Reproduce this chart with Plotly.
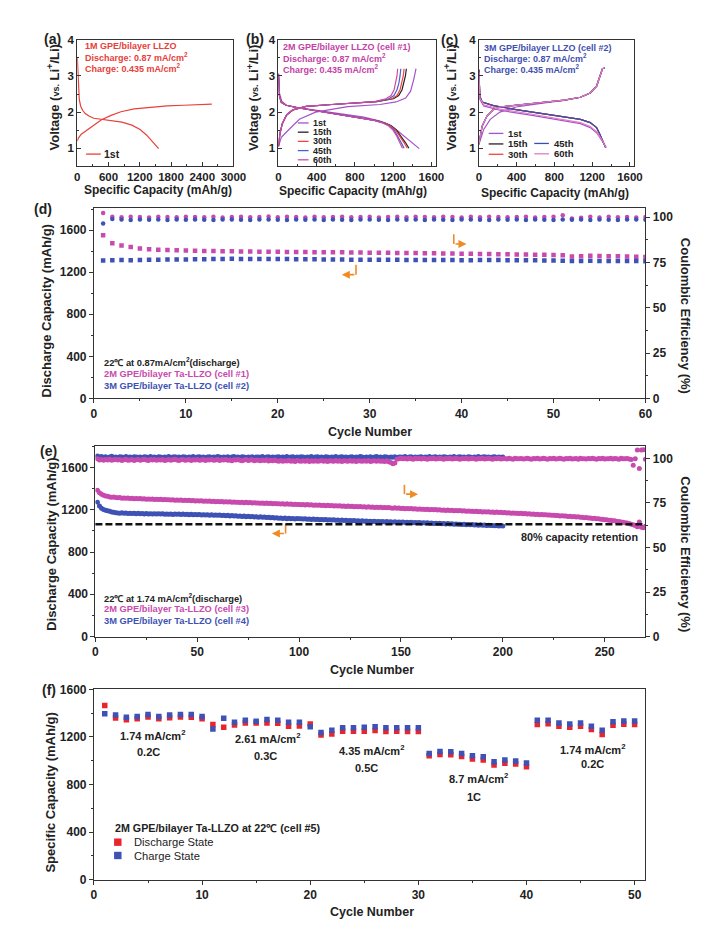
import plotly.graph_objects as go

W, H = 722, 944
FONT = "Liberation Sans"

MAG = "#c84aae"
BLU = "#3d52b4"
RED = "#e8252d"
ORG = "#f08a24"

# ---------------- (a) 1M GPE ----------------
a_dis_cap = [0, 8, 16, 25, 38, 63, 101, 152, 222, 317, 476, 667, 857, 1048, 1206, 1333, 1460, 1562]
a_dis_v = [3.50, 3.17, 2.85, 2.58, 2.35, 2.17, 2.05, 1.96, 1.89, 1.83, 1.80, 1.76, 1.72, 1.64, 1.52, 1.36, 1.16, 0.99]
a_chg_cap = [0, 20, 76, 203, 330, 457, 648, 838, 1092, 1410, 1727, 2045, 2362, 2584]
a_chg_v = [1.20, 1.28, 1.39, 1.52, 1.66, 1.78, 1.91, 2.01, 2.09, 2.14, 2.17, 2.19, 2.21, 2.22]

# ---------------- (b) 2M GPE cell #1 ----------------
b_cycles = ["1st", "15th", "30th", "45th", "60th"]
b_colors = ["#a452cc", "#222222", "#f2433c", "#4a5fd0", "#d04aa4"]
b_dis_cap = {
    "1st":  [0, 10, 34, 84, 219, 556, 893, 1062, 1163, 1230, 1331, 1415, 1473],
    "15th": [0, 10, 30, 80, 200, 380, 550, 720, 880, 1010, 1110, 1180, 1235, 1285, 1330, 1365],
    "30th": [0, 10, 30, 80, 200, 380, 550, 720, 880, 1010, 1105, 1172, 1225, 1272, 1315, 1348],
    "45th": [0, 10, 30, 80, 200, 380, 550, 720, 880, 1005, 1095, 1160, 1210, 1250, 1285, 1314],
    "60th": [0, 10, 30, 80, 200, 380, 550, 720, 875, 1000, 1090, 1150, 1198, 1238, 1270, 1297],
}
b_dis_v = {
    "1st":  [3.08, 2.53, 2.30, 2.19, 2.12, 2.00, 1.86, 1.75, 1.64, 1.52, 1.31, 1.11, 0.99],
    "15th": [3.05, 2.45, 2.27, 2.19, 2.12, 2.04, 1.97, 1.90, 1.83, 1.77, 1.70, 1.62, 1.50, 1.33, 1.15, 1.00],
    "30th": [3.05, 2.45, 2.27, 2.19, 2.12, 2.04, 1.97, 1.90, 1.83, 1.77, 1.70, 1.62, 1.50, 1.33, 1.15, 1.00],
    "45th": [3.05, 2.45, 2.27, 2.19, 2.12, 2.04, 1.97, 1.90, 1.83, 1.77, 1.70, 1.62, 1.50, 1.33, 1.15, 1.00],
    "60th": [3.05, 2.45, 2.27, 2.19, 2.12, 2.04, 1.97, 1.90, 1.83, 1.77, 1.70, 1.62, 1.50, 1.33, 1.15, 1.00],
}
b_chg_cap = {
    "1st":  [0, 30, 84, 219, 388, 725, 1062, 1230, 1331, 1382, 1415, 1439],
    "15th": [0, 15, 40, 85, 150, 290, 560, 830, 1030, 1203, 1258, 1293, 1313, 1328, 1338],
    "30th": [0, 15, 40, 85, 150, 290, 560, 830, 1025, 1185, 1240, 1272, 1292, 1306, 1314],
    "45th": [0, 15, 40, 85, 150, 290, 560, 825, 1015, 1155, 1208, 1240, 1260, 1272, 1280],
    "60th": [0, 15, 40, 85, 150, 290, 555, 820, 1005, 1125, 1178, 1210, 1228, 1240, 1247],
}
b_chg_v = {
    "1st":  [1.05, 1.30, 1.45, 1.80, 2.00, 2.15, 2.21, 2.28, 2.39, 2.58, 2.90, 3.20],
    "15th": [1.05, 1.40, 1.68, 1.92, 2.06, 2.16, 2.21, 2.25, 2.29, 2.37, 2.46, 2.62, 2.80, 3.00, 3.20],
    "30th": [1.05, 1.40, 1.68, 1.92, 2.06, 2.16, 2.21, 2.25, 2.29, 2.37, 2.46, 2.62, 2.80, 3.00, 3.20],
    "45th": [1.05, 1.40, 1.68, 1.92, 2.06, 2.16, 2.21, 2.25, 2.29, 2.37, 2.46, 2.62, 2.80, 3.00, 3.20],
    "60th": [1.05, 1.40, 1.68, 1.92, 2.06, 2.16, 2.21, 2.25, 2.29, 2.37, 2.46, 2.62, 2.80, 3.00, 3.20],
}

# ---------------- (c) 3M GPE cell #2 ----------------
c_cycles = ["1st", "15th", "30th", "45th", "60th"]
c_colors = ["#a452cc", "#222222", "#f2433c", "#3a4fb0", "#e27cc8"]
c_dis_cap = {
    "1st":  [0, 10, 51, 222, 564, 905, 1076, 1179, 1247, 1316, 1350],
    "15th": [0, 10, 34, 154, 393, 564, 735, 905, 1076, 1179, 1247, 1281, 1316, 1333, 1343],
    "30th": [0, 10, 34, 154, 393, 564, 735, 905, 1076, 1179, 1247, 1281, 1316, 1333, 1343],
    "45th": [0, 10, 34, 154, 393, 564, 735, 905, 1076, 1179, 1247, 1281, 1316, 1333, 1340],
    "60th": [0, 10, 51, 222, 564, 905, 1076, 1179, 1247, 1316, 1345],
}
c_dis_v = {
    "1st":  [3.17, 2.35, 2.17, 2.05, 1.91, 1.77, 1.68, 1.57, 1.43, 1.16, 1.02],
    "15th": [3.17, 2.44, 2.28, 2.18, 2.07, 2.00, 1.94, 1.87, 1.80, 1.71, 1.57, 1.39, 1.16, 1.05, 1.02],
    "30th": [3.17, 2.44, 2.28, 2.18, 2.07, 2.00, 1.94, 1.87, 1.80, 1.71, 1.57, 1.39, 1.16, 1.05, 1.02],
    "45th": [3.17, 2.44, 2.28, 2.18, 2.07, 2.00, 1.94, 1.87, 1.80, 1.71, 1.57, 1.39, 1.16, 1.05, 1.02],
    "60th": [3.10, 2.38, 2.20, 2.08, 1.94, 1.80, 1.71, 1.60, 1.46, 1.18, 1.02],
}
c_chg_cap = {
    "1st":  [0, 51, 120, 222, 393, 564, 735, 905, 1076, 1179, 1247, 1281, 1309, 1335],
    "15th": [0, 34, 85, 154, 222, 393, 564, 735, 905, 1076, 1179, 1247, 1281, 1309, 1330],
    "30th": [0, 34, 85, 154, 222, 393, 564, 735, 905, 1076, 1179, 1247, 1281, 1309, 1333],
    "45th": [0, 34, 85, 154, 222, 393, 564, 735, 905, 1076, 1179, 1247, 1281, 1309, 1336],
    "60th": [0, 34, 85, 154, 222, 393, 564, 735, 905, 1076, 1179, 1247, 1281, 1309, 1332],
}
c_chg_v = {
    "1st":  [1.11, 1.52, 1.80, 2.00, 2.14, 2.21, 2.27, 2.32, 2.41, 2.53, 2.72, 2.99, 3.20, 3.22],
    "15th": [1.11, 1.61, 1.89, 2.07, 2.14, 2.19, 2.23, 2.28, 2.33, 2.41, 2.53, 2.72, 2.99, 3.20, 3.22],
    "30th": [1.11, 1.61, 1.89, 2.07, 2.14, 2.19, 2.23, 2.28, 2.33, 2.41, 2.53, 2.72, 2.99, 3.20, 3.22],
    "45th": [1.11, 1.61, 1.89, 2.07, 2.14, 2.19, 2.23, 2.28, 2.33, 2.41, 2.53, 2.72, 2.99, 3.20, 3.22],
    "60th": [1.11, 1.61, 1.89, 2.07, 2.14, 2.19, 2.23, 2.28, 2.33, 2.41, 2.53, 2.72, 2.99, 3.20, 3.22],
}

# ---------------- (d) 0.87 mA/cm2, 60 cycles ----------------
d_cap1 = [1550, 1475, 1453, 1440, 1425, 1418, 1413, 1410, 1408, 1406,
          1404, 1402, 1401, 1399, 1398, 1397, 1396, 1395, 1394, 1393,
          1392, 1392, 1391, 1390, 1389, 1388, 1388, 1387, 1386, 1385,
          1385, 1384, 1383, 1382, 1381, 1380, 1379, 1378, 1377, 1376,
          1375, 1373, 1372, 1371, 1370, 1368, 1367, 1366, 1365, 1363,
          1360, 1348, 1352, 1355, 1353, 1351, 1350, 1348, 1347, 1345]
d_cap2 = [1310, 1312, 1315, 1312, 1316, 1318, 1319, 1320, 1320, 1321,
          1322, 1323, 1324, 1325, 1327, 1326, 1326, 1325, 1325, 1324,
          1324, 1323, 1322, 1322, 1321, 1320, 1320, 1319, 1319, 1318,
          1318, 1317, 1317, 1316, 1316, 1315, 1315, 1316, 1315, 1314,
          1314, 1315, 1316, 1315, 1314, 1313, 1312, 1312, 1311, 1310,
          1309, 1305, 1307, 1308, 1307, 1306, 1306, 1305, 1305, 1304]
d_ce1 = [102.2, 100.1, 99.9, 100.2, 100.0, 99.8, 100.1, 100.0, 99.9, 100.2,
         100.0, 99.9, 100.1, 99.8, 100.0, 100.2, 99.9, 100.0, 100.3, 99.9,
         100.1, 100.0, 99.8, 100.1, 99.9, 100.0, 100.2, 99.9, 100.0, 100.1,
         99.8, 100.0, 100.1, 99.9, 100.2, 100.0, 99.9, 100.1, 100.0, 99.8,
         100.1, 99.9, 100.2, 100.0, 99.9, 100.0, 100.1, 99.8, 100.0, 100.2,
         101.0, 99.2, 99.6, 100.1, 99.8, 100.2, 99.9, 100.0, 99.8, 100.0]
d_ce2 = [96.4, 98.9, 98.6, 98.4, 98.7, 98.5, 98.6, 98.4, 98.7, 98.5,
         98.6, 98.5, 98.4, 98.7, 98.6, 98.5, 98.4, 98.6, 98.7, 98.5,
         98.4, 98.6, 98.5, 98.7, 98.4, 98.6, 98.5, 98.4, 98.6, 98.7,
         98.5, 98.4, 98.6, 98.5, 98.7, 98.4, 98.6, 98.5, 98.4, 98.6,
         98.7, 98.5, 98.4, 98.6, 98.5, 98.7, 98.4, 98.6, 98.5, 98.4,
         98.6, 98.5, 98.7, 98.4, 98.6, 98.5, 98.4, 98.6, 98.7, 98.5]

# ---------------- (e) 1.74 mA/cm2, long cycling ----------------
e_cap3 = [1385, 1362, 1348, 1338, 1331, 1327, 1322, 1318, 1320, 1315,
          1313, 1316, 1310, 1312, 1308, 1311, 1306, 1309, 1305, 1307,
          1304, 1306, 1302, 1305, 1300, 1303, 1299, 1302, 1298, 1300,
          1297, 1299, 1295, 1298, 1294, 1296, 1292, 1295, 1291, 1293,
          1290, 1292, 1288, 1291, 1287, 1289, 1285, 1288, 1284, 1286,
          1283, 1285, 1281, 1284, 1280, 1282, 1278, 1281, 1277, 1279,
          1276, 1278, 1274, 1277, 1273, 1275, 1271, 1274, 1270, 1272,
          1269, 1271, 1267, 1270, 1266, 1268, 1264, 1267, 1263, 1265,
          1262, 1264, 1260, 1263, 1259, 1261, 1257, 1260, 1256, 1258,
          1255, 1257, 1253, 1256, 1252, 1254, 1250, 1253, 1249, 1251,
          1248, 1250, 1246, 1249, 1245, 1247, 1243, 1246, 1242, 1244,
          1241, 1243, 1239, 1242, 1238, 1240, 1236, 1239, 1235, 1237,
          1234, 1236, 1232, 1235, 1231, 1233, 1229, 1232, 1228, 1230,
          1227, 1229, 1225, 1228, 1224, 1226, 1222, 1225, 1221, 1223,
          1220, 1222, 1218, 1221, 1217, 1215, 1218, 1214, 1216, 1212,
          1214, 1210, 1213, 1209, 1211, 1207, 1210, 1206, 1208, 1204,
          1206, 1202, 1205, 1201, 1203, 1199, 1202, 1198, 1200, 1196,
          1198, 1194, 1197, 1193, 1195, 1191, 1194, 1190, 1192, 1188,
          1190, 1186, 1189, 1185, 1187, 1183, 1186, 1182, 1184, 1180,
          1182, 1178, 1181, 1177, 1179, 1175, 1178, 1174, 1176, 1172,
          1174, 1170, 1172, 1168, 1170, 1166, 1168, 1164, 1166, 1162,
          1164, 1160, 1162, 1158, 1160, 1156, 1158, 1154, 1156, 1152,
          1154, 1150, 1151, 1147, 1149, 1145, 1146, 1142, 1144, 1140,
          1141, 1137, 1139, 1134, 1136, 1131, 1133, 1128, 1130, 1125,
          1127, 1122, 1123, 1118, 1119, 1114, 1115, 1110, 1111, 1106,
          1106, 1101, 1101, 1096, 1095, 1090, 1089, 1084, 1082, 1077,
          1074, 1070, 1063, 1058, 1050, 1040, 1085, 1035, 1030, 1045]
e_ce3 = [99.8, 99.2, 99.5, 99.0, 99.4, 99.1, 99.6, 99.0, 99.3, 99.5,
         99.1, 99.4, 98.9, 99.3, 99.6, 99.0, 99.2, 99.5, 98.9, 99.3,
         99.4, 99.0, 99.3, 99.6, 99.1, 98.9, 99.4, 99.2, 99.5, 99.0,
         99.3, 99.1, 99.5, 98.9, 99.2, 99.4, 99.0, 99.3, 99.6, 99.1,
         98.9, 99.3, 99.5, 99.0, 99.2, 99.4, 98.9, 99.3, 99.1, 99.5,
         99.0, 99.2, 99.4, 98.9, 99.3, 99.1, 99.5, 99.0, 99.2, 99.4,
         98.9, 99.3, 99.1, 99.5, 99.0, 99.2, 98.8, 99.3, 99.1, 99.4,
         99.0, 98.8, 99.2, 99.4, 98.9, 99.1, 99.3, 98.8, 99.2, 99.0,
         98.7, 99.1, 98.9, 99.3, 98.6, 99.0, 98.8, 99.2, 98.7, 98.5,
         98.9, 98.4, 98.8, 98.6, 99.0, 98.5, 98.7, 98.3, 98.9, 98.6,
         98.4, 98.8, 98.5, 98.9, 98.3, 98.7, 98.5, 98.8, 98.4, 98.6,
         98.9, 98.5, 98.7, 98.3, 98.8, 98.6, 98.4, 98.9, 98.5, 98.7,
         98.3, 98.8, 98.6, 98.4, 98.9, 98.5, 98.7, 98.3, 98.8, 98.6,
         98.4, 98.7, 98.5, 98.9, 98.3, 98.6, 98.8, 98.4, 98.7, 98.5,
         98.6, 98.3, 98.7, 98.2, 97.8, 97.0, 97.4, 99.6, 99.9, 100.1,
         99.8, 100.0, 99.7, 100.2, 99.9, 99.6, 100.1, 99.8, 100.0, 99.7,
         100.1, 99.9, 99.6, 100.0, 99.8, 100.2, 99.7, 99.9, 100.1, 99.8,
         99.6, 100.0, 99.9, 100.2, 99.7, 99.8, 100.1, 99.9, 99.6, 100.0,
         99.8, 100.1, 99.7, 99.9, 100.2, 99.8, 99.6, 100.0, 99.9, 100.1,
         99.7, 99.9, 100.2, 99.8, 99.6, 100.0, 99.9, 100.1, 99.7, 99.8,
         100.0, 99.7, 100.1, 99.9, 99.6, 100.2, 99.8, 99.9, 100.0, 99.7,
         99.9, 100.1, 99.8, 99.6, 100.0, 99.9, 100.2, 99.7, 99.8, 100.1,
         99.8, 99.6, 100.0, 99.9, 100.1, 99.7, 99.9, 100.2, 99.8, 99.6,
         100.0, 99.8, 100.1, 99.7, 99.9, 100.0, 99.6, 100.1, 99.8, 99.9,
         99.7, 100.0, 99.9, 100.2, 99.8, 99.6, 100.0, 99.9, 100.1, 99.7,
         99.9, 99.8, 100.1, 99.7, 100.0, 99.9, 99.6, 100.1, 99.8, 99.9,
         100.0, 99.7, 99.5, 96.2, 99.8, 104.8, 94.4, 104.8, 104.9, 99.6]
e_cap4 = [1272, 1235, 1214, 1203, 1196, 1190, 1185, 1180, 1176, 1172,
          1170, 1168, 1171, 1166, 1169, 1165, 1168, 1164, 1167, 1163,
          1166, 1162, 1165, 1161, 1164, 1160, 1163, 1159, 1162, 1160,
          1163, 1159, 1162, 1158, 1161, 1157, 1160, 1156, 1159, 1157,
          1160, 1156, 1159, 1155, 1158, 1154, 1157, 1153, 1156, 1154,
          1155, 1151, 1154, 1150, 1153, 1149, 1152, 1148, 1151, 1147,
          1150, 1146, 1149, 1144, 1147, 1142, 1145, 1140, 1143, 1138,
          1141, 1137, 1140, 1135, 1138, 1133, 1136, 1131, 1134, 1130,
          1133, 1128, 1131, 1126, 1129, 1124, 1127, 1122, 1125, 1120,
          1123, 1118, 1121, 1116, 1119, 1114, 1118, 1113, 1117, 1115,
          1116, 1112, 1115, 1110, 1113, 1109, 1112, 1107, 1110, 1106,
          1109, 1105, 1108, 1103, 1106, 1102, 1105, 1100, 1103, 1099,
          1102, 1098, 1101, 1096, 1099, 1095, 1098, 1093, 1096, 1092,
          1095, 1091, 1094, 1089, 1092, 1088, 1091, 1087, 1090, 1086,
          1089, 1085, 1088, 1084, 1087, 1083, 1086, 1082, 1085, 1081,
          1084, 1080, 1083, 1079, 1082, 1078, 1080, 1076, 1079, 1075,
          1078, 1074, 1076, 1072, 1075, 1071, 1073, 1069, 1072, 1068,
          1070, 1066, 1069, 1065, 1067, 1063, 1066, 1062, 1064, 1060,
          1063, 1059, 1061, 1057, 1060, 1056, 1058, 1054, 1057, 1053,
          1055, 1051, 1054, 1050, 1052, 1048, 1051, 1047, 1049, 1046]
e_ce4 = [101.4, 100.8, 101.1, 100.7, 101.0, 100.6, 100.9, 101.2, 100.7, 100.9,
         100.6, 101.0, 100.8, 100.5, 101.1, 100.7, 100.9, 100.6, 101.0, 100.8,
         100.7, 100.9, 100.5, 101.0, 100.8, 100.6, 101.1, 100.7, 100.9, 100.6,
         101.0, 100.8, 100.5, 100.9, 100.7, 101.1, 100.6, 100.8, 101.0, 100.7,
         100.9, 100.6, 101.0, 100.8, 100.5, 100.9, 100.7, 101.1, 100.6, 100.8,
         101.0, 100.7, 100.9, 100.5, 100.8, 101.0, 100.6, 100.9, 100.7, 101.1,
         100.8, 100.5, 100.9, 100.7, 101.0, 100.6, 100.8, 101.1, 100.7, 100.9,
         100.6, 101.0, 100.8, 100.5, 100.9, 100.7, 101.0, 100.6, 100.8, 100.9,
         100.7, 101.1, 100.6, 100.8, 101.0, 100.5, 100.9, 100.7, 100.8, 101.0,
         100.6, 100.9, 100.7, 101.1, 100.5, 100.8, 101.0, 100.6, 100.9, 100.7,
         101.0, 100.8, 100.5, 100.9, 100.7, 101.1, 100.6, 100.8, 101.0, 100.7,
         100.9, 100.6, 101.0, 100.8, 100.5, 100.9, 100.7, 101.1, 100.6, 100.8,
         101.0, 100.7, 100.9, 100.5, 100.8, 101.0, 100.6, 100.9, 100.7, 101.1,
         100.8, 100.5, 100.9, 100.7, 101.0, 100.6, 100.8, 101.1, 100.7, 100.9,
         100.6, 101.0, 100.8, 100.5, 100.9, 100.7, 101.0, 100.6, 100.8, 100.9,
         100.7, 101.1, 100.6, 100.8, 101.0, 100.5, 100.9, 100.7, 100.8, 101.0,
         100.6, 100.9, 100.7, 101.1, 100.5, 100.8, 101.0, 100.6, 100.9, 100.7,
         101.0, 100.8, 100.5, 100.9, 100.7, 101.1, 100.6, 100.8, 101.0, 100.7,
         100.9, 100.6, 101.0, 100.8, 100.5, 100.9, 100.7, 101.1, 100.6, 100.8,
         101.0, 100.7, 100.9, 100.5, 100.8, 101.0, 100.6, 100.9, 100.7, 100.8]
retention_80 = 1063

# ---------------- (f) rate capability ----------------
f_dis = [1464, 1359, 1345, 1354, 1368, 1354, 1362, 1368, 1365, 1354,
         1304, 1282, 1301, 1318, 1318, 1318, 1315, 1290, 1293, 1310,
         1216, 1224, 1249, 1249, 1249, 1254, 1246, 1249, 1246, 1246,
         1042, 1053, 1050, 1036, 1014, 1006, 964, 978, 973, 950,
         1304, 1312, 1290, 1282, 1290, 1263, 1221, 1299, 1307, 1304]
f_chg = [1395, 1384, 1365, 1373, 1390, 1373, 1384, 1390, 1390, 1373,
         1268, 1357, 1323, 1340, 1332, 1346, 1340, 1323, 1323, 1285,
         1238, 1257, 1277, 1277, 1282, 1285, 1277, 1277, 1277, 1277,
         1061, 1078, 1075, 1061, 1042, 1033, 992, 1006, 997, 981,
         1340, 1340, 1318, 1310, 1318, 1290, 1257, 1329, 1335, 1335]

# =====================================================================
def X(p):
    return p / W


def Y(p):
    return 1 - p / H


fig = go.Figure()


def line(x, y, color, xa, ya, width=1.2):
    fig.add_trace(go.Scatter(x=x, y=y, mode="lines", line=dict(color=color, width=width),
                             xaxis=xa, yaxis=ya, showlegend=False, hoverinfo="skip"))


def pts(x, y, color, xa, ya, symbol="square", size=4.5):
    fig.add_trace(go.Scatter(x=x, y=y, mode="markers",
                             marker=dict(color=color, symbol=symbol, size=size, line=dict(width=0)),
                             xaxis=xa, yaxis=ya, showlegend=False, hoverinfo="skip"))


# (a)
line(a_dis_cap, a_dis_v, "#e8403a", "x", "y")
line(a_chg_cap, a_chg_v, "#e8403a", "x", "y")
# (b)
for cyc, col in zip(b_cycles, b_colors):
    line(b_dis_cap[cyc], b_dis_v[cyc], col, "x2", "y2")
    line(b_chg_cap[cyc], b_chg_v[cyc], col, "x2", "y2")
# (c)
for cyc, col in zip(c_cycles, c_colors):
    line(c_dis_cap[cyc], c_dis_v[cyc], col, "x3", "y3")
    line(c_chg_cap[cyc], c_chg_v[cyc], col, "x3", "y3")

# (d)
d_n = list(range(1, len(d_cap1) + 1))
pts(d_n, d_cap1, MAG, "x4", "y4", "square", 4.5)
pts(d_n, d_cap2, BLU, "x4", "y4", "square", 4.5)
pts(d_n, d_ce1, MAG, "x4", "y5", "circle", 4.5)
pts(d_n, d_ce2, BLU, "x4", "y5", "circle", 4.5)

# (e)
e_n3 = list(range(1, len(e_cap3) + 1))
e_n4 = list(range(1, len(e_cap4) + 1))
pts(e_n3, e_cap3, MAG, "x5", "y6", "circle", 5)
pts(e_n4, e_cap4, BLU, "x5", "y6", "circle", 5)
pts(e_n4, e_ce4, BLU, "x5", "y7", "circle", 5)
pts(e_n3, e_ce3, MAG, "x5", "y7", "circle", 5)

# (f)
f_n = list(range(1, len(f_dis) + 1))
pts(f_n, f_dis, RED, "x6", "y8", "square", 5.5)
pts(f_n, f_chg, BLU, "x6", "y8", "square", 5.5)


def axis(dom, rng, dtick, minor, anchor, mirror=True, ticks="outside", fs=12, **kw):
    d = dict(domain=dom, range=rng, dtick=dtick, tick0=0, anchor=anchor,
             showline=True, linecolor="#333", linewidth=1, mirror=mirror,
             ticks=ticks, ticklen=4, tickwidth=1, tickcolor="#333",
             showgrid=False, zeroline=False,
             tickfont=dict(family=FONT, size=fs, color="#222", weight="bold"),
             minor=dict(ticks=ticks, ticklen=2, tickwidth=1, tickcolor="#333", dtick=minor))
    d.update(kw)
    return d


yab = [Y(161.7), Y(33.3)]
fig.update_layout(
    xaxis=axis([X(76), X(235.7)], [0, 3000], 600, 300, "y", ticks="inside", fs=11.5),
    yaxis=axis(yab, [0.5, 4], 1, 0.5, "x", ticks="inside", fs=11.5),
    xaxis2=axis([X(281.7), X(443)], [0, 1650], 400, 200, "y2", ticks="inside", fs=11.5),
    yaxis2=axis(yab, [0.5, 4], 1, 0.5, "x2", ticks="inside", fs=11.5),
    xaxis3=axis([X(486.7), X(645)], [0, 1640], 400, 200, "y3", ticks="inside", fs=11.5),
    yaxis3=axis(yab, [0.5, 4], 1, 0.5, "x3", ticks="inside", fs=11.5),
    xaxis4=axis([X(93), X(657)], [0, 60], 10, 5, "y4"),
    yaxis4=axis([Y(397.3), Y(204)], [0, 1810], 400, 200, "x4"),
    yaxis5=axis([Y(397.3), Y(204)], [0, 105], 25, 12.5, "x4", mirror=False,
                overlaying="y4", side="right"),
    xaxis5=axis([X(94.5), X(657)], [0, 270], 50, 25, "y6"),
    yaxis6=axis([Y(639), Y(446)], [0, 1800], 400, 200, "x5"),
    yaxis7=axis([Y(639), Y(446)], [0, 106.8], 25, 12.5, "x5", mirror=False,
                overlaying="y6", side="right"),
    xaxis6=axis([X(93), X(657)], [0, 51], 10, 5, "y8"),
    yaxis8=axis([Y(885.7), Y(692.7)], [0, 1600], 400, 200, "x6"),
)

ann = []
shapes = []


def txt(x, y, s, size, color="#222", anchor="left", bold=True, angle=0):
    ann.append(dict(x=X(x), y=Y(y), xref="paper", yref="paper", text=s, showarrow=False,
                    xanchor=anchor, yanchor="middle", textangle=angle,
                    font=dict(family=FONT, size=size, color=color,
                              weight="bold" if bold else "normal")))


def seg(x0, y0, x1, y1, color, width=1.3):
    shapes.append(dict(type="line", xref="paper", yref="paper", x0=X(x0), y0=Y(y0),
                       x1=X(x1), y1=Y(y1), line=dict(color=color, width=width)))


def arrow(xt, yt, ax):
    ann.append(dict(x=X(xt), y=Y(yt), xref="paper", yref="paper", text=" ", showarrow=True,
                    ax=ax, ay=0, arrowhead=2, arrowsize=1, arrowwidth=1.6, arrowcolor=ORG,
                    standoff=0, startstandoff=0, font=dict(size=2)))


# panel labels
for lab, x, y in [("(a)", 51, 32), ("(b)", 258, 32), ("(c)", 457, 33),
                  ("(d)", 41, 205), ("(e)", 47, 451), ("(f)", 47, 693)]:
    txt(x, y, lab, 14, anchor="center")

VOLT = "Voltage (<span style='font-size:9px'>vs.</span> Li<sup>+</sup>/Li)"
txt(51, 92, VOLT, 13, anchor="center", angle=-90)
txt(255, 92, VOLT, 13, anchor="center", angle=-90)
txt(457, 92, VOLT, 13, anchor="center", angle=-90)
SC = "Specific Capacity (mAh/g)"
txt(159, 186, SC, 12, anchor="center")
txt(358, 187, SC, 12, anchor="center")
txt(564, 189, SC, 12, anchor="center")

# panel texts (a)-(c)
for i, s in enumerate(["1M GPE/bilayer LLZO", "Discharge: 0.87 mA/cm<sup>2</sup>",
                       "Charge: 0.435 mA/cm<sup>2</sup>"]):
    txt(81.5, 39.5 + 11 * i, s, 9, color="#e8403a")
for i, s in enumerate(["2M GPE/bilayer LLZO (cell #1)", "Discharge: 0.87 mA/cm<sup>2</sup>",
                       "Charge: 0.435 mA/cm<sup>2</sup>"]):
    txt(284.5, 40.5 + 11 * i, s, 9, color="#c43fa6")
for i, s in enumerate(["3M GPE/bilayer LLZO (cell #2)", "Discharge: 0.87 mA/cm<sup>2</sup>",
                       "Charge: 0.435 mA/cm<sup>2</sup>"]):
    txt(490, 41.5 + 10.7 * i, s, 9, color="#3f4fb0")

# legend keys (a)-(c)
seg(85, 149.3, 100, 149.3, "#e8403a")
txt(101.5, 149.3, "1st", 10.5)
for i, (cyc, col) in enumerate(zip(b_cycles, b_colors)):
    yy = 117.7 + 9.35 * i
    seg(301.5, yy, 312.5, yy, col)
    txt(314.5, yy, cyc, 9)
c_pos = [(496.7, 128.3), (496.7, 139), (496.7, 149.5), (543.3, 138.5), (543.3, 149)]
for (xx, yy), cyc, col in zip(c_pos, c_cycles, c_colors):
    seg(xx, yy, xx + 15, yy, col)
    txt(xx + 18, yy, cyc, 9.5)

# (d) texts
txt(44, 309, "Discharge Capacity (mAh/g)", 13, anchor="center", angle=-90)
txt(698, 313, "Coulombic Efficiency (%)", 13, anchor="center", angle=90)
txt(375, 431.5, "Cycle Number", 12.5, anchor="center")
txt(101, 360, "22℃ at 0.87mA/cm<sup>2</sup>(discharge)", 9.3)
txt(101, 372.3, "2M GPE/bilayer Ta-LLZO (cell #1)", 9.3, color=MAG)
txt(101, 384.5, "3M GPE/bilayer Ta-LLZO (cell #2)", 9.3, color=BLU)
seg(461, 230.7, 461, 240.5, ORG, 1.6)
arrow(474, 240.5, -13)
seg(361, 261.7, 361, 271.7, ORG, 1.6)
arrow(346.5, 271.7, 14.5)

# (e) texts
txt(50, 545, "Discharge Capacity (mAh/g)", 13, anchor="center", angle=-90)
txt(698, 555, "Coulombic Efficiency (%)", 13, anchor="center", angle=90)
txt(377, 672.7, "Cycle Number", 12.5, anchor="center")
txt(101, 599.5, "22℃ at 1.74 mA/cm<sup>2</sup>(discharge)", 9.3)
txt(101, 611.5, "2M GPE/bilayer Ta-LLZO (cell #3)", 9.3, color=MAG)
txt(101, 623.5, "3M GPE/bilayer Ta-LLZO (cell #4)", 9.3, color=BLU)
txt(651, 537.5, "80% capacity retention", 10.8, anchor="right")
seg(410.5, 485, 410.5, 494.5, ORG, 1.6)
arrow(424.5, 494.5, -14)
seg(289, 525, 289, 534.5, ORG, 1.6)
arrow(275, 534.5, 14)
shapes.append(dict(type="line", xref="x5 domain", yref="y6", x0=0, x1=1,
                   y0=retention_80, y1=retention_80,
                   line=dict(color="#111", width=2.6, dash="7px,3px")))

# (f) texts
txt(48.5, 797, "Specific Capacity (mAh/g)", 13, anchor="center", angle=-90)
txt(377, 918.3, "Cycle Number", 12.5, anchor="center")
for s, x, y in [("1.74 mA/cm<sup>2</sup>", 153, 738.7), ("0.2C", 149, 756.7),
                ("2.61 mA/cm<sup>2</sup>", 271, 741.7), ("0.3C", 268.5, 760),
                ("4.35 mA/cm<sup>2</sup>", 377, 754), ("0.5C", 372, 772),
                ("8.7 mA/cm<sup>2</sup>", 486, 783), ("1C", 481.5, 801.7),
                ("1.74 mA/cm<sup>2</sup>", 603, 752.7), ("0.2C", 603, 768.7)]:
    txt(x, y, s, 11, anchor="center")
txt(112.5, 833.3, "2M GPE/bilayer Ta-LLZO at 22℃ (cell #5)", 10.7)
shapes.append(dict(type="rect", xref="paper", yref="paper", x0=X(113.6), x1=X(121.2),
                   y0=Y(851.5), y1=Y(844), fillcolor=RED, line=dict(width=0)))
shapes.append(dict(type="rect", xref="paper", yref="paper", x0=X(113.6), x1=X(121.2),
                   y0=Y(865), y1=Y(857.5), fillcolor=BLU, line=dict(width=0)))
txt(132, 847.7, "Discharge State", 11.2, bold=False)
txt(132, 861.3, "Charge State", 11.2, bold=False)

fig.update_layout(annotations=ann, shapes=shapes, width=W, height=H,
                  margin=dict(l=0, r=0, t=0, b=0), paper_bgcolor="white",
                  plot_bgcolor="white", showlegend=False,
                  font=dict(family=FONT, color="#222"))
fig.write_html("out.html", config={"displayModeBar": False})

# remove the browser's default 8px body margin so the figure sits at (0, 0)
with open("out.html", "r", encoding="utf-8") as fh:
    page = fh.read()
page = page.replace("<body>", "<body style=\"margin:0;padding:0;overflow:hidden\">", 1)
page = page.replace("<head>", "<head><style>html,body{margin:0;padding:0;}</style>", 1)
with open("out.html", "w", encoding="utf-8") as fh:
    fh.write(page)
